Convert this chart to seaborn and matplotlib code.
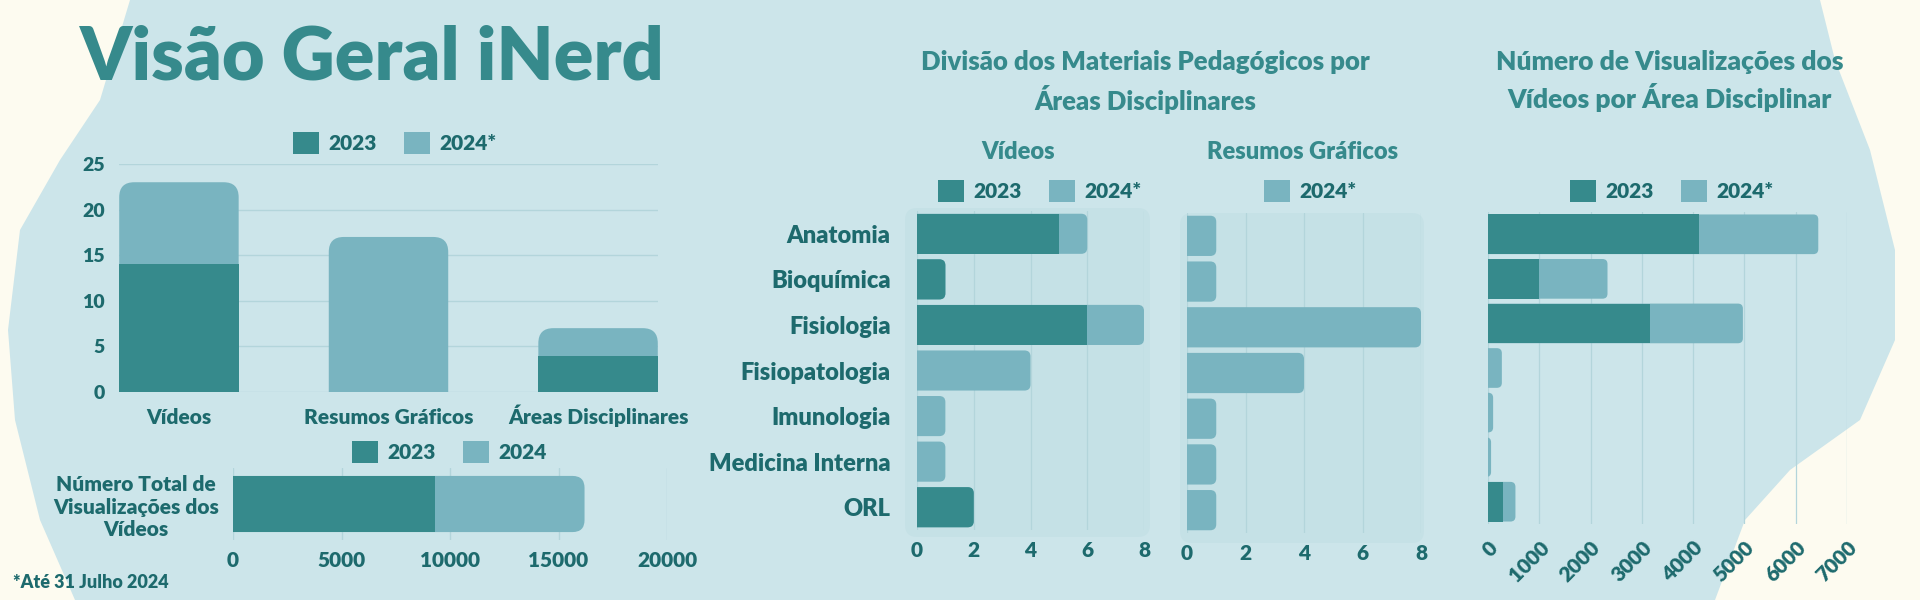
import matplotlib
matplotlib.use("Agg")
import matplotlib.pyplot as plt
import pandas as pd
import seaborn as sns
from matplotlib.patches import Patch, FancyBboxPatch

# dados
overview_cats = ['Vídeos', 'Resumos Gráficos', 'Áreas Disciplinares']
overview_2023 = [14, 0, 4]
overview_2024 = [9, 17, 3]

total_views_label = 'Número Total de\nVisualizações dos\nVídeos'
total_views_2023 = [9300]
total_views_2024 = [6900]

areas = ['Anatomia', 'Bioquímica', 'Fisiologia', 'Fisiopatologia',
         'Imunologia', 'Medicina Interna', 'ORL']
videos_2023 = [5, 1, 6, 0, 0, 0, 2]
videos_2024 = [1, 0, 2, 4, 1, 1, 0]
resumos_2024 = [1, 1, 8, 4, 1, 1, 1]
views_2023 = [4120, 990, 3160, 0, 0, 0, 290]
views_2024 = [2320, 1340, 1810, 270, 100, 60, 245]

DARK = '#368a8c'
LIGHT = '#79b4c0'
TXT = '#1d6a6d'
HEAD = '#368a8c'
GRID = '#b3d5db'
CREAM = '#fdfbf0'
BLUE = '#cce5ea'

sns.set_theme(style='white')
plt.rcParams['font.family'] = ['Lato', 'DejaVu Sans']
plt.rcParams['font.weight'] = 'heavy'

W, H = 1920, 600
fig = plt.figure(figsize=(19.2, 6), dpi=100, facecolor=CREAM)


def box(x0, y0, x1, y1):
    # caixa em pixeis -> eixos
    return fig.add_axes([x0 / W, 1 - y1 / H, (x1 - x0) / W, (y1 - y0) / H])


def legend_at(labels, colors, x, y):
    handles = [Patch(facecolor=c, edgecolor='none') for c in colors]
    fig.legend(handles, labels, loc='center', bbox_to_anchor=(x / W, 1 - y / H),
               ncol=len(labels), frameon=False, handlelength=1.25, handleheight=1.25,
               handletextpad=0.45, columnspacing=1.3,
               prop=dict(weight='heavy', size=15), labelcolor=TXT)


def style(ax):
    ax.set_facecolor('none')
    sns.despine(ax=ax, left=True, bottom=True)
    ax.set_xlabel('')
    ax.set_ylabel('')
    ax.tick_params(colors=TXT, length=0)


def rounded(ax, rects, r_px, horizontal, keep_square=None, z=2):
    # troca os retângulos por caixas com a ponta arredondada
    pos = ax.get_position()
    x0, x1 = ax.get_xlim()
    y0, y1 = ax.get_ylim()
    xr = abs(x1 - x0) / (pos.width * W)
    yr = abs(y1 - y0) / (pos.height * H)
    for i, p in enumerate(rects):
        x, y, w, h = p.get_x(), p.get_y(), p.get_width(), p.get_height()
        if w == 0 or h == 0:
            p.remove()
            continue
        if keep_square is not None and keep_square[i]:
            p.set_zorder(z)
            continue
        if horizontal:
            x -= r_px * xr
            w += r_px * xr
        else:
            y -= r_px * yr
            h += r_px * yr
        fb = FancyBboxPatch((x, y), w, h,
                            boxstyle=f'round,pad=0,rounding_size={r_px * xr}',
                            mutation_aspect=yr / xr, fc=p.get_facecolor(),
                            ec='none', lw=0, zorder=z)
        p.remove()
        ax.add_patch(fb)


def stacked(ax, df, cat, a, b, horizontal, width, r_px):
    df = df.copy()
    df['_t'] = df[a] + df[b]
    if horizontal:
        sns.barplot(data=df, y=cat, x='_t', color=LIGHT, saturation=1, width=width,
                    errorbar=None, ax=ax, orient='h', linewidth=0)
    else:
        sns.barplot(data=df, x=cat, y='_t', color=LIGHT, saturation=1, width=width,
                    errorbar=None, ax=ax, linewidth=0)
    light = list(ax.patches)
    if horizontal:
        sns.barplot(data=df, y=cat, x=a, color=DARK, saturation=1, width=width,
                    errorbar=None, ax=ax, orient='h', linewidth=0)
    else:
        sns.barplot(data=df, x=cat, y=a, color=DARK, saturation=1, width=width,
                    errorbar=None, ax=ax, linewidth=0)
    dark = [p for p in ax.patches if p not in light]
    return light, dark, [v > 0 for v in df[b]]


# fundo aguarela
bg = fig.add_axes([0, 0, 1, 1], zorder=-10)
bg.set_xlim(0, W)
bg.set_ylim(H, 0)
bg.axis('off')
bx = [130, 1500, 1820, 1835, 1870, 1895, 1895, 1860, 1790, 1745, 1715, 75, 40, 15, 8, 20, 60, 100, 118]
by = [0, 0, 0, 60, 150, 250, 340, 420, 470, 520, 600, 600, 520, 420, 330, 230, 160, 100, 40]
bg.fill(bx, by, color=BLUE, lw=0)
for (x0, y0, x1, y1) in [(905, 208, 1150, 537), (1180, 213, 1424, 543)]:
    bg.add_patch(FancyBboxPatch((x0, y0), x1 - x0, y1 - y0,
                                boxstyle='round,pad=0,rounding_size=12',
                                fc='#a8d0d8', ec='none', alpha=0.18))

# título
fig.text(80 / W, 1 - 58 / H, 'Visão Geral iNerd', color=HEAD, fontsize=53,
         weight='heavy', va='center', ha='left')

# gráfico 1: visão geral
df1 = pd.DataFrame({'cat': overview_cats, 'a': overview_2023, 'b': overview_2024})
ax1 = box(119, 164, 658, 392)
l1, d1, has_b1 = stacked(ax1, df1, 'cat', 'a', 'b', False, 0.57, 15)
ax1.set_xlim(-0.286, 2.286)
ax1.set_ylim(0, 25)
ax1.set_yticks([0, 5, 10, 15, 20, 25])
ax1.yaxis.grid(True, color=GRID, lw=1)
ax1.set_axisbelow(True)
style(ax1)
ax1.tick_params(axis='y', labelsize=14, pad=10)
ax1.tick_params(axis='x', labelsize=15, pad=23)
for t in ax1.get_xticklabels():
    t.set_va('baseline')
rounded(ax1, l1, 15, False, z=2)
rounded(ax1, d1, 15, False, keep_square=has_b1, z=3)
legend_at(['2023', '2024*'], [DARK, LIGHT], 395, 143)

# gráfico 2: visualizações totais
df2 = pd.DataFrame({'lab': [total_views_label], 'a': total_views_2023, 'b': total_views_2024})
ax2 = box(233, 468, 667, 540)
l2, d2, has_b2 = stacked(ax2, df2, 'lab', 'a', 'b', True, 0.78, 12)
ax2.set_xlim(0, 20000)
ax2.set_xticks([0, 5000, 10000, 15000, 20000])
ax2.xaxis.grid(True, color=GRID, lw=1)
ax2.set_axisbelow(True)
style(ax2)
ax2.tick_params(axis='x', labelsize=15, pad=8)
ax2.tick_params(axis='y', labelsize=15, pad=10)
for t in ax2.get_yticklabels():
    t.set_multialignment('center')
rounded(ax2, l2, 12, True, z=2)
rounded(ax2, d2, 12, True, keep_square=has_b2, z=3)
legend_at(['2023', '2024'], [DARK, LIGHT], 449, 452)

fig.text(13 / W, 1 - 583 / H, '*Até 31 Julho 2024', color=TXT, fontsize=13,
         weight='heavy', va='center', ha='left')

# gráfico 3: divisão por áreas
fig.text(1145 / W, 1 - 82 / H, 'Divisão dos Materiais Pedagógicos por\nÁreas Disciplinares',
         color=HEAD, fontsize=18.5, weight='heavy', ha='center', va='center', linespacing=1.4)
fig.text(1018 / W, 1 - 152 / H, 'Vídeos', color=HEAD, fontsize=17, weight='heavy',
         ha='center', va='center')
fig.text(1303 / W, 1 - 152 / H, 'Resumos Gráficos', color=HEAD, fontsize=17,
         weight='heavy', ha='center', va='center')
legend_at(['2023', '2024*'], [DARK, LIGHT], 1040, 191)
legend_at(['2024*'], [LIGHT], 1310, 191)

df3 = pd.DataFrame({'area': areas, 'a': videos_2023, 'b': videos_2024, 'r': resumos_2024})
ax3 = box(917, 211, 1144, 530)
l3, d3, has_b3 = stacked(ax3, df3, 'area', 'a', 'b', True, 0.88, 6)
ax3.set_xlim(0, 8)
ax3.set_xticks([0, 2, 4, 6, 8])
ax3.xaxis.grid(True, color=GRID, lw=0.9)
ax3.set_axisbelow(True)
style(ax3)
ax3.tick_params(axis='x', labelsize=15, pad=8)
ax3.tick_params(axis='y', labelsize=17, pad=19)
rounded(ax3, l3, 6, True, z=2)
rounded(ax3, d3, 6, True, keep_square=has_b3, z=3)

ax4 = box(1187, 213, 1421, 533)
sns.barplot(data=df3, y='area', x='r', color=LIGHT, saturation=1, width=0.88,
            errorbar=None, ax=ax4, orient='h', linewidth=0)
ax4.set_xlim(0, 8)
ax4.set_xticks([0, 2, 4, 6, 8])
ax4.xaxis.grid(True, color=GRID, lw=0.9)
ax4.set_axisbelow(True)
style(ax4)
ax4.set_yticklabels([])
ax4.tick_params(axis='x', labelsize=15, pad=8)
rounded(ax4, list(ax4.patches), 6, True, z=2)

# gráfico 4: visualizações por área
fig.text(1670 / W, 1 - 81 / H, 'Número de Visualizações dos\nVídeos por Área Disciplinar',
         color=HEAD, fontsize=19, weight='heavy', ha='center', va='center', linespacing=1.4)
legend_at(['2023', '2024*'], [DARK, LIGHT], 1672, 191)

df4 = pd.DataFrame({'area': areas, 'a': views_2023, 'b': views_2024})
ax5 = box(1488, 212, 1847, 524)
l5, d5, has_b5 = stacked(ax5, df4, 'area', 'a', 'b', True, 0.89, 5)
ax5.set_xlim(0, 7000)
ax5.set_xticks(range(0, 7001, 1000))
ax5.xaxis.grid(True, color=GRID, lw=0.9)
ax5.set_axisbelow(True)
style(ax5)
ax5.set_yticklabels([])
ax5.tick_params(axis='x', labelsize=15, pad=10)
for t in ax5.get_xticklabels():
    t.set_rotation(45)
    t.set_ha('right')
    t.set_rotation_mode('anchor')
rounded(ax5, l5, 5, True, z=2)
rounded(ax5, d5, 5, True, keep_square=has_b5, z=3)

fig.savefig('out.png', dpi=100, facecolor=CREAM)
